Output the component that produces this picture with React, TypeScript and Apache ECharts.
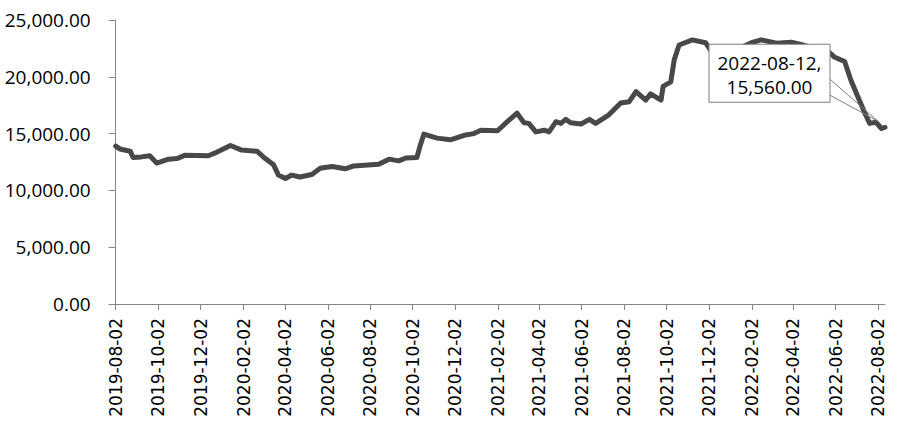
import React, { useEffect, useRef } from "react";
import * as echarts from "echarts";

const START_DATE = "2019-08-02";
const END_DATE = "2022-08-12";

const TICK_LABELS = [
  "2019-08-02", "2019-10-02", "2019-12-02", "2020-02-02", "2020-04-02", "2020-06-02",
  "2020-08-02", "2020-10-02", "2020-12-02", "2021-02-02", "2021-04-02", "2021-06-02",
  "2021-08-02", "2021-10-02", "2021-12-02", "2022-02-02", "2022-04-02", "2022-06-02",
  "2022-08-02",
];

const DATES = [
  "2019-08-02", "2019-08-08", "2019-08-23", "2019-08-27", "2019-09-08", "2019-09-20",
  "2019-09-30", "2019-10-17", "2019-10-29", "2019-11-10", "2019-12-13", "2019-12-25",
  "2020-01-14", "2020-01-30", "2020-02-21", "2020-03-04", "2020-03-16", "2020-03-23",
  "2020-04-02", "2020-04-11", "2020-04-23", "2020-05-10", "2020-05-22", "2020-06-08",
  "2020-06-27", "2020-07-09", "2020-08-14", "2020-08-29", "2020-09-12", "2020-09-22",
  "2020-10-08", "2020-10-13", "2020-10-18", "2020-11-06", "2020-11-25", "2020-12-15",
  "2020-12-29", "2021-01-08", "2021-02-01", "2021-02-15", "2021-03-01", "2021-03-11",
  "2021-03-18", "2021-03-28", "2021-04-09", "2021-04-16", "2021-04-26", "2021-05-03",
  "2021-05-10", "2021-05-17", "2021-06-01", "2021-06-13", "2021-06-22", "2021-07-11",
  "2021-07-28", "2021-08-09", "2021-08-19", "2021-09-02", "2021-09-09", "2021-09-24",
  "2021-09-27", "2021-10-08", "2021-10-13", "2021-10-20", "2021-11-08", "2021-11-27",
  "2021-12-07", "2022-01-03", "2022-02-01", "2022-02-15", "2022-03-09", "2022-03-30",
  "2022-04-13", "2022-05-05", "2022-05-25", "2022-05-31", "2022-06-15", "2022-06-24",
  "2022-07-04", "2022-07-14", "2022-07-21", "2022-07-30", "2022-08-07", "2022-08-12",
];

const VALUES = [
  13900, 13650, 13450, 12900, 12950, 13050,
  12400, 12750, 12800, 13100, 13050, 13350,
  13950, 13550, 13450, 12800, 12250, 11350,
  11050, 11350, 11180, 11400, 11950, 12100,
  11900, 12150, 12300, 12750, 12600, 12850,
  12900, 14000, 14950, 14600, 14450, 14850,
  15000, 15300, 15250, 16050, 16800, 15950,
  15900, 15150, 15300, 15150, 16050, 15900,
  16250, 15950, 15850, 16250, 15900, 16650,
  17700, 17800, 18700, 17950, 18500, 17950,
  19150, 19550, 21500, 22800, 23250, 23000,
  22100, 22200, 23000, 23250, 22950, 23050,
  22850, 22450, 22100, 21750, 21350, 19700,
  18250, 16800, 15900, 16000, 15450, 15560,
];

function buildDays(start: string, end: string): string[] {
  const out: string[] = [];
  const [sy, sm, sd] = start.split("-").map(Number);
  const [ey, em, ed] = end.split("-").map(Number);
  let t = Date.UTC(sy, sm - 1, sd);
  const e = Date.UTC(ey, em - 1, ed);
  while (t <= e) {
    out.push(new Date(t).toISOString().slice(0, 10));
    t += 86400000;
  }
  return out;
}

const fmt = (v: number) =>
  v.toLocaleString("en-US", { minimumFractionDigits: 2, maximumFractionDigits: 2 });

export default function App() {
  const ref = useRef<HTMLDivElement>(null);

  useEffect(() => {
    if (!ref.current) return;
    const chart = echarts.init(ref.current, null, { renderer: "svg" });
    const days = buildDays(START_DATE, END_DATE);
    const tickSet = new Set(TICK_LABELS);
    const showTick = (_i: number, v: string) => tickSet.has(v);
    const data = DATES.map((d, i) => [d, VALUES[i]]);

    chart.setOption({
      animation: false,
      backgroundColor: "#ffffff",
      grid: { left: 115.7, right: 15, top: 20, bottom: 123, outerBoundsMode: "none" },
      xAxis: {
        type: "category",
        data: days,
        boundaryGap: false,
        axisLine: { show: true, lineStyle: { color: "#868686", width: 1 } },
        axisTick: { show: true, interval: showTick, length: 6, lineStyle: { color: "#868686" } },
        axisLabel: {
          interval: showTick,
          rotate: 90,
          margin: 14,
          fontFamily: "DejaVu Sans",
          fontSize: 17,
          color: "#000000",
        },
        splitLine: { show: false },
      },
      yAxis: {
        type: "value",
        min: 0,
        max: 25000,
        interval: 5000,
        axisLine: { show: true, lineStyle: { color: "#868686", width: 1 } },
        axisTick: { show: true, length: 7, lineStyle: { color: "#868686" } },
        axisLabel: {
          formatter: (v: number) => fmt(v),
          margin: 25,
          fontFamily: "Open Sans",
          fontSize: 19,
          color: "#000000",
        },
        splitLine: { show: false },
      },
      series: [
        {
          type: "line",
          data,
          showSymbol: false,
          symbol: "none",
          lineStyle: { color: "#484848", width: 5, join: "round", cap: "round" },
          z: 2,
        },
      ],
    });

    const lastIdx = DATES.length - 1;
    const p = chart.convertToPixel({ xAxisIndex: 0, yAxisIndex: 0 }, [
      days.indexOf(DATES[lastIdx]),
      VALUES[lastIdx],
    ]) as number[];
    const px = p[0];
    const py = p[1];
    const L = px - 176;
    const R = px - 55;
    const T = py - 83;
    const B = py - 25;
    const tip = [px - 7, py - 6];
    const cx = (L + R) / 2;

    chart.setOption({
      graphic: [
        {
          type: "polyline",
          z: 100,
          shape: { points: [[R, py - 48], tip, [R, py - 32]] },
          style: { stroke: "#7f7f7f", lineWidth: 1, fill: null },
        },
        {
          type: "rect",
          z: 101,
          shape: { x: L, y: T, width: R - L, height: B - T },
          style: { fill: "#ffffff", stroke: "#7f7f7f", lineWidth: 1 },
        },
        {
          type: "text",
          z: 102,
          x: cx,
          y: T + 19,
          style: {
            text: `${DATES[lastIdx]},`,
            fontFamily: "Open Sans",
            fontSize: 19,
            fill: "#000000",
            align: "center",
            verticalAlign: "middle",
          },
        },
        {
          type: "text",
          z: 102,
          x: cx,
          y: T + 43,
          style: {
            text: fmt(VALUES[lastIdx]),
            fontFamily: "Open Sans",
            fontSize: 19,
            fill: "#000000",
            align: "center",
            verticalAlign: "middle",
          },
        },
      ],
    });

    return () => chart.dispose();
  }, []);

  return (
    <div
      ref={ref}
      style={{ position: "fixed", left: 0, top: 0, width: 900, height: 427, background: "#fff" }}
    />
  );
}
